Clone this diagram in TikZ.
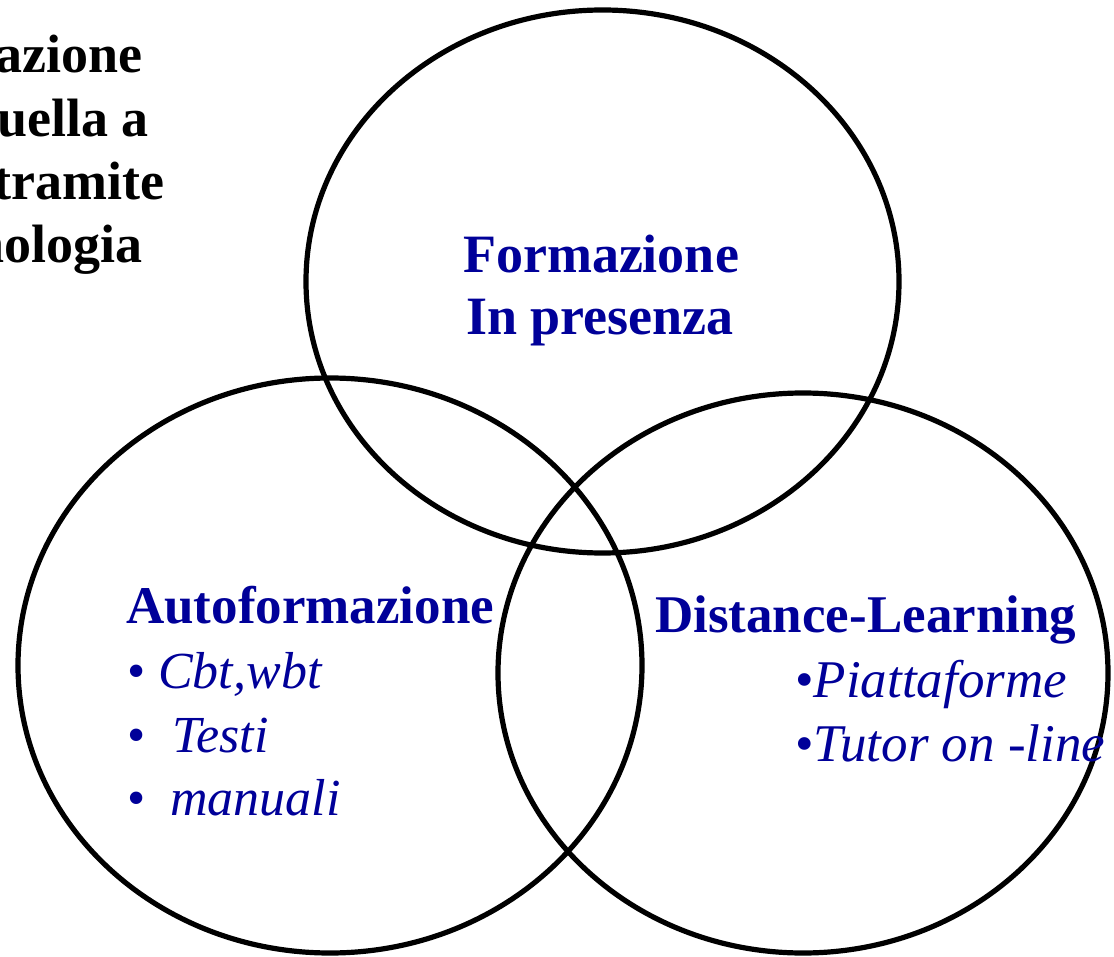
\documentclass[tikz,border=0pt]{standalone}
\usepackage{fontspec}
\setmainfont{Liberation Serif}
\definecolor{dblue}{RGB}{0,0,153}
\begin{document}
\begin{tikzpicture}[x=1pt,y=-1pt,
  ring/.style={draw=black,line width=5.2pt},
  blk/.style={inner sep=0pt,font=\fontsize{54}{64}\selectfont\bfseries,text=black},
  ttl/.style={inner sep=0pt,font=\fontsize{54}{64}\selectfont\bfseries,text=dblue},
  itm/.style={inner sep=0pt,font=\fontsize{52}{64}\selectfont\itshape,text=dblue},
  bul/.style={inner sep=0pt,font=\fontsize{52}{64}\selectfont,text=dblue}]
\useasboundingbox (0,0) rectangle (1114,957);
\clip (0,0) rectangle (1114,957);
\fill[white] (0,0) rectangle (1114,957);
% circles
\coordinate (ctop) at (602.5,281.5);
\coordinate (cleft) at (330,665.5);
\coordinate (cright) at (803,673);
\draw[ring] (ctop) ellipse [x radius=296.5, y radius=271.5];
\draw[ring] (cleft) ellipse [x radius=312, y radius=287.5];
\draw[ring] (cright) ellipse [x radius=305, y radius=280];
% clipped black text (cut at the left edge, as in the source)
\node[blk,anchor=base east] (b1) at (143,73) {azione};
\node[blk,anchor=base east] (b2) at (149,137) {uella a};
\node[blk,anchor=base east] (b3) at (165,200) {tramite};
\node[blk,anchor=base east] (b4) at (143,263) {nologia};
% top circle
\node[ttl,anchor=base] (f1) at (601,273) {Formazione};
\node[ttl,anchor=base] (f2) at (600,335) {In presenza};
% left circle
\node[ttl,anchor=base west,font=\fontsize{53}{64}\selectfont\bfseries] (a0) at (126,623) {Autoformazione};
\node[bul,anchor=base west] (a1b) at (127,688) {\textbullet};
\node[itm,anchor=base west] (a1) at (158,688) {Cbt,wbt};
\node[bul,anchor=base west] (a2b) at (127,752) {\textbullet};
\node[itm,anchor=base west] (a2) at (172,752) {Testi};
\node[bul,anchor=base west] (a3b) at (127,815) {\textbullet};
\node[itm,anchor=base west] (a3) at (170,815) {manuali};
% right circle
\node[ttl,anchor=base west,font=\fontsize{53}{64}\selectfont\bfseries] (d0) at (655,632) {Distance-Learning};
\node[itm,anchor=base west,font=\fontsize{53}{64}\selectfont\itshape] (d1) at (795,697) {\upshape\textbullet\itshape Piattaforme};
\node[itm,anchor=base west,font=\fontsize{53}{64}\selectfont\itshape] (d2) at (795,761) {\upshape\textbullet\itshape Tutor on -line};
\end{tikzpicture}
\end{document}
